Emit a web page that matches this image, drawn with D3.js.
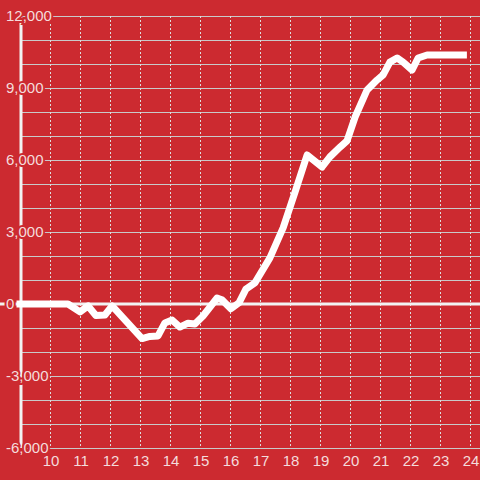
<!DOCTYPE html>
<html><head><meta charset="utf-8">
<script src="https://cdn.jsdelivr.net/npm/d3@7"></script>
<style>html,body{margin:0;padding:0;background:#cc2a30;}svg{display:block;}</style>
</head><body>
<svg id="chart" width="480" height="480"></svg>
<script>
const hours = [9.0,10.6,11.0,11.27,11.53,11.83,12.07,13.07,13.33,13.6,13.83,14.07,14.33,14.6,14.83,15.1,15.57,15.73,16.03,16.3,16.53,16.83,17.33,17.77,18.17,18.57,19.07,19.33,19.67,19.9,20.17,20.57,20.9,21.1,21.33,21.57,21.77,22.07,22.27,22.57,23.78];
const values = [0,0,-330,-80,-480,-460,-80,-1440,-1350,-1330,-790,-670,-960,-800,-830,-500,250,180,-200,50,620,880,1920,3170,4670,6210,5710,6130,6540,6800,7790,8920,9330,9540,10080,10250,10080,9750,10250,10375,10375];
const xTicks = [10,11,12,13,14,15,16,17,18,19,20,21,22,23,24];
const yLabelTicks = [-6000,-3000,0,3000,6000,9000,12000];
const yGridTicks = d3.range(-6000, 12001, 1000);

const W = 480, H = 480;
const bg = "#cc2a30";
const svg = d3.select("#chart");
svg.append("rect").attr("width", W).attr("height", H).attr("fill", bg);

const x = d3.scaleLinear().domain([9, 24]).range([20, 470]);
const y = d3.scaleLinear().domain([-6000, 12000]).range([448, 16]);

// horizontal grid
svg.append("g").selectAll("line").data(yGridTicks).join("line")
  .attr("x1", 22).attr("x2", W)
  .attr("y1", d => Math.round(y(d)) + 0.5).attr("y2", d => Math.round(y(d)) + 0.5)
  .attr("stroke", "#c9c9c9").attr("stroke-width", 1);

// vertical dashed grid
svg.append("g").selectAll("line").data(xTicks).join("line")
  .attr("x1", d => Math.round(x(d)) + 0.5).attr("x2", d => Math.round(x(d)) + 0.5)
  .attr("y1", y(12000)).attr("y2", y(-6000))
  .attr("stroke", "#dddddd").attr("stroke-width", 1).attr("stroke-dasharray", "2,2");

// zero line
svg.append("line").attr("x1", 0).attr("x2", W)
  .attr("y1", y(0)).attr("y2", y(0))
  .attr("stroke", "#f2f2f2").attr("stroke-width", 3);

// y axis line
svg.append("line").attr("x1", 21).attr("x2", 21)
  .attr("y1", y(12000)).attr("y2", y(-6000))
  .attr("stroke", "#f2f2f2").attr("stroke-width", 3);

// data line
const pts = hours.map((h, i) => [h, values[i]]);
svg.append("path").datum(pts)
  .attr("d", d3.line().x(d => x(d[0])).y(d => y(d[1])))
  .attr("fill", "none").attr("stroke", "#ffffff")
  .attr("stroke-width", 7).attr("stroke-linejoin", "round").attr("stroke-linecap", "square");

// y labels
const fmt = d3.format(",");
svg.append("g").selectAll("text").data(yLabelTicks).join("text")
  .attr("x", 6).attr("y", d => y(d))
  .attr("dy", "0.36em")
  .attr("font-family", "'Liberation Sans', Arial, sans-serif").attr("font-size", 15)
  .attr("fill", "#f4dcdc")
  .attr("stroke", bg).attr("stroke-width", 4).attr("paint-order", "stroke")
  .text(d => d < 0 ? "-" + fmt(-d) : fmt(d));

// x labels
svg.append("g").selectAll("text").data(xTicks).join("text")
  .attr("x", d => x(d) + 1).attr("y", 466)
  .attr("text-anchor", "middle")
  .attr("font-family", "'Liberation Sans', Arial, sans-serif").attr("font-size", 15)
  .attr("fill", "#f4dcdc")
  .text(d => d);
</script>
</body></html>
